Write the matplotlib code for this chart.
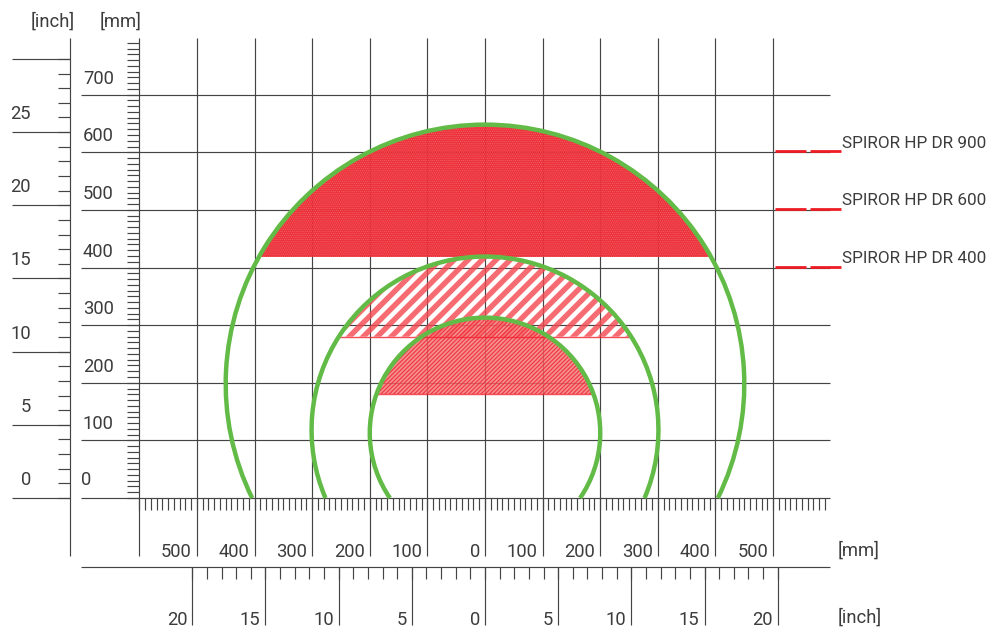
import numpy as np
import matplotlib
matplotlib.use('Agg')
import matplotlib.pyplot as plt
from matplotlib.collections import LineCollection
from matplotlib.patches import Arc, Circle, Polygon, Rectangle

plt.rcParams['font.family'] = ['Roboto', 'DejaVu Sans']

# values, all in mm
models = ['SPIROR HP DR 900', 'SPIROR HP DR 600', 'SPIROR HP DR 400']
model_levels = [600, 500, 400]
center_y = [198, 118, 113]
radius = [450, 301, 200]
cut_y = [419, 280, 181]
grid_x = [-600, -500, -400, -300, -200, -100, 0, 100, 200, 300, 400, 500]
grid_y = [0, 100, 200, 300, 400, 500, 600, 700]
mm_labels_x = [500, 400, 300, 200, 100, 0, 100, 200, 300, 400, 500]
mm_labels_pos = [-500, -400, -300, -200, -100, 0, 100, 200, 300, 400, 500]
inch_labels_y = [0, 5, 10, 15, 20, 25]
inch_major_y = [0, 5, 10, 15, 20, 25, 30]
inch_major_x = [-20, -15, -10, -5, 0, 5, 10, 15, 20]

GRID = '#444444'
GREEN = '#62bb46'
TEXT = '#3c3c3c'
S = 0.5762  # px per mm
X0, Y0 = 485, 498


def xm(px):
    return (px - X0) / S


def ym(py):
    return (Y0 - py) / S


fig = plt.figure(figsize=(9.89, 6.30), dpi=100)
ax = fig.add_axes([0, 0, 1, 1])
ax.set_xlim(xm(0), xm(989))
ax.set_ylim(ym(630), ym(0))
ax.axis('off')

# grid
ax.vlines(grid_x, ym(556), ym(38), color=GRID, lw=0.85, zorder=1)
ax.hlines(grid_y, xm(81), xm(830), color=GRID, lw=0.85, zorder=1)

# mm rulers
ax.hlines(np.arange(0, 800, 10), xm(127), xm(139), color=GRID, lw=0.85, zorder=1)
ax.vlines(np.arange(-600, 600, 10), ym(510), ym(498), color=GRID, lw=0.85, zorder=1)

# inch ruler, left
ax.vlines(xm(70), ym(556), ym(38), color=GRID, lw=0.85)
ax.hlines(np.arange(0, 31) * 25.4, xm(58), xm(70), color=GRID, lw=0.85)
ax.hlines(np.array(inch_major_y) * 25.4, xm(12), xm(70), color=GRID, lw=0.85)

# inch ruler, bottom
ax.hlines(ym(567), xm(81), xm(830), color=GRID, lw=0.85)
ax.vlines(np.arange(-20, 21) * 25.4, ym(579), ym(567), color=GRID, lw=0.85)
ax.vlines(np.array(inch_major_x) * 25.4, ym(625), ym(567), color=GRID, lw=0.85)

# large cap, dotted red
plt.rcParams['hatch.linewidth'] = 0.5
clip = Rectangle((-radius[0], cut_y[0]), 2 * radius[0], center_y[0] + radius[0] - cut_y[0],
                 transform=ax.transData)
cap = Circle((0, center_y[0]), radius[0], lw=0, zorder=3, facecolor='#ec2630',
             hatch='........', edgecolor='#f26a6c', alpha=0.95)
ax.add_patch(cap)
cap.set_clip_path(clip)

# middle cap, wide stripes, period about 14 px along x
a = np.arcsin((cut_y[1] - center_y[1]) / radius[1])
th = np.linspace(a, np.pi - a, 200)
seg = Polygon(np.c_[radius[1] * np.cos(th), center_y[1] + radius[1] * np.sin(th)],
              transform=ax.transData)
lines = [[(c - 400, cut_y[1] - 100), (c + 400, cut_y[1] + 700)] for c in np.arange(-300, 900, 24.3)]
stripes = LineCollection(lines, colors='#f4474f', linewidths=3.9, alpha=0.8, zorder=3)
ax.add_collection(stripes)
stripes.set_clip_path(seg)

# small cap, fine diagonal hatch
plt.rcParams['hatch.linewidth'] = 0.9
clip = Rectangle((-radius[2], cut_y[2]), 2 * radius[2], center_y[2] + radius[2] - cut_y[2],
                 transform=ax.transData)
cap = Circle((0, center_y[2]), radius[2], lw=0, zorder=3, facecolor='#f67476',
             hatch='////////', edgecolor='#ec2630', alpha=0.8)
ax.add_patch(cap)
cap.set_clip_path(clip)

# bottom edges of the caps
for cy, r, cut in zip(center_y[1:], radius[1:], cut_y[1:]):
    half = np.sqrt(r ** 2 - (cut - cy) ** 2)
    ax.hlines(cut, -half, half, color='#f0222e', lw=1, alpha=0.8, zorder=3)

# green outlines
for cy, r in zip(center_y, radius):
    # opening at the bottom where the circle reaches y=0
    a = np.degrees(np.arcsin(cy / r))
    ax.add_patch(Arc((0, cy), 2 * r, 2 * r, theta1=-a, theta2=180 + a,
                     color=GREEN, lw=3.2, zorder=4))

# model marks
for name, lev in zip(models, model_levels):
    y = lev + 1.5
    ax.hlines(y, xm(775), xm(806), color='#ee1c25', lw=2, zorder=5)
    ax.hlines(y, xm(810), xm(841), color='#ee1c25', lw=2, zorder=5)
    ax.annotate(name, (xm(842), lev), xytext=(0, 9), textcoords='offset pixels',
                ha='left', va='center', fontsize=12.3, color=TEXT)

# text
fs = 13.2
for v in grid_y[1:]:
    ax.annotate(str(v), (xm(83), v), xytext=(0, 16), textcoords='offset pixels',
                ha='left', va='center', fontsize=fs, color=TEXT)
ax.text(xm(81), ym(480), '0', ha='left', va='center', fontsize=fs, color=TEXT)
for v in inch_labels_y:
    ax.annotate(str(v), (xm(31), v * 25.4), xytext=(0, 18), textcoords='offset pixels',
                ha='right', va='center', fontsize=fs, color=TEXT)
for p, v in zip(mm_labels_pos, mm_labels_x):
    ax.annotate(str(v), (p, ym(552)), xytext=(-5, 0), textcoords='offset pixels',
                ha='right', va='center', fontsize=fs, color=TEXT)
for p, v in zip(inch_major_x, [abs(i) for i in inch_major_x]):
    ax.annotate(str(v), (p * 25.4, ym(620)), xytext=(-5, 0), textcoords='offset pixels',
                ha='right', va='center', fontsize=fs, color=TEXT)
ax.text(xm(75), ym(22), '[inch]', ha='right', va='center', fontsize=13.2, color=TEXT)
ax.text(xm(141), ym(22), '[mm]', ha='right', va='center', fontsize=13.2, color=TEXT)
ax.text(xm(838), ym(551), '[mm]', ha='left', va='center', fontsize=13.2, color=TEXT)
ax.text(xm(838), ym(618), '[inch]', ha='left', va='center', fontsize=13.2, color=TEXT)

fig.savefig('out.png', dpi=100)
